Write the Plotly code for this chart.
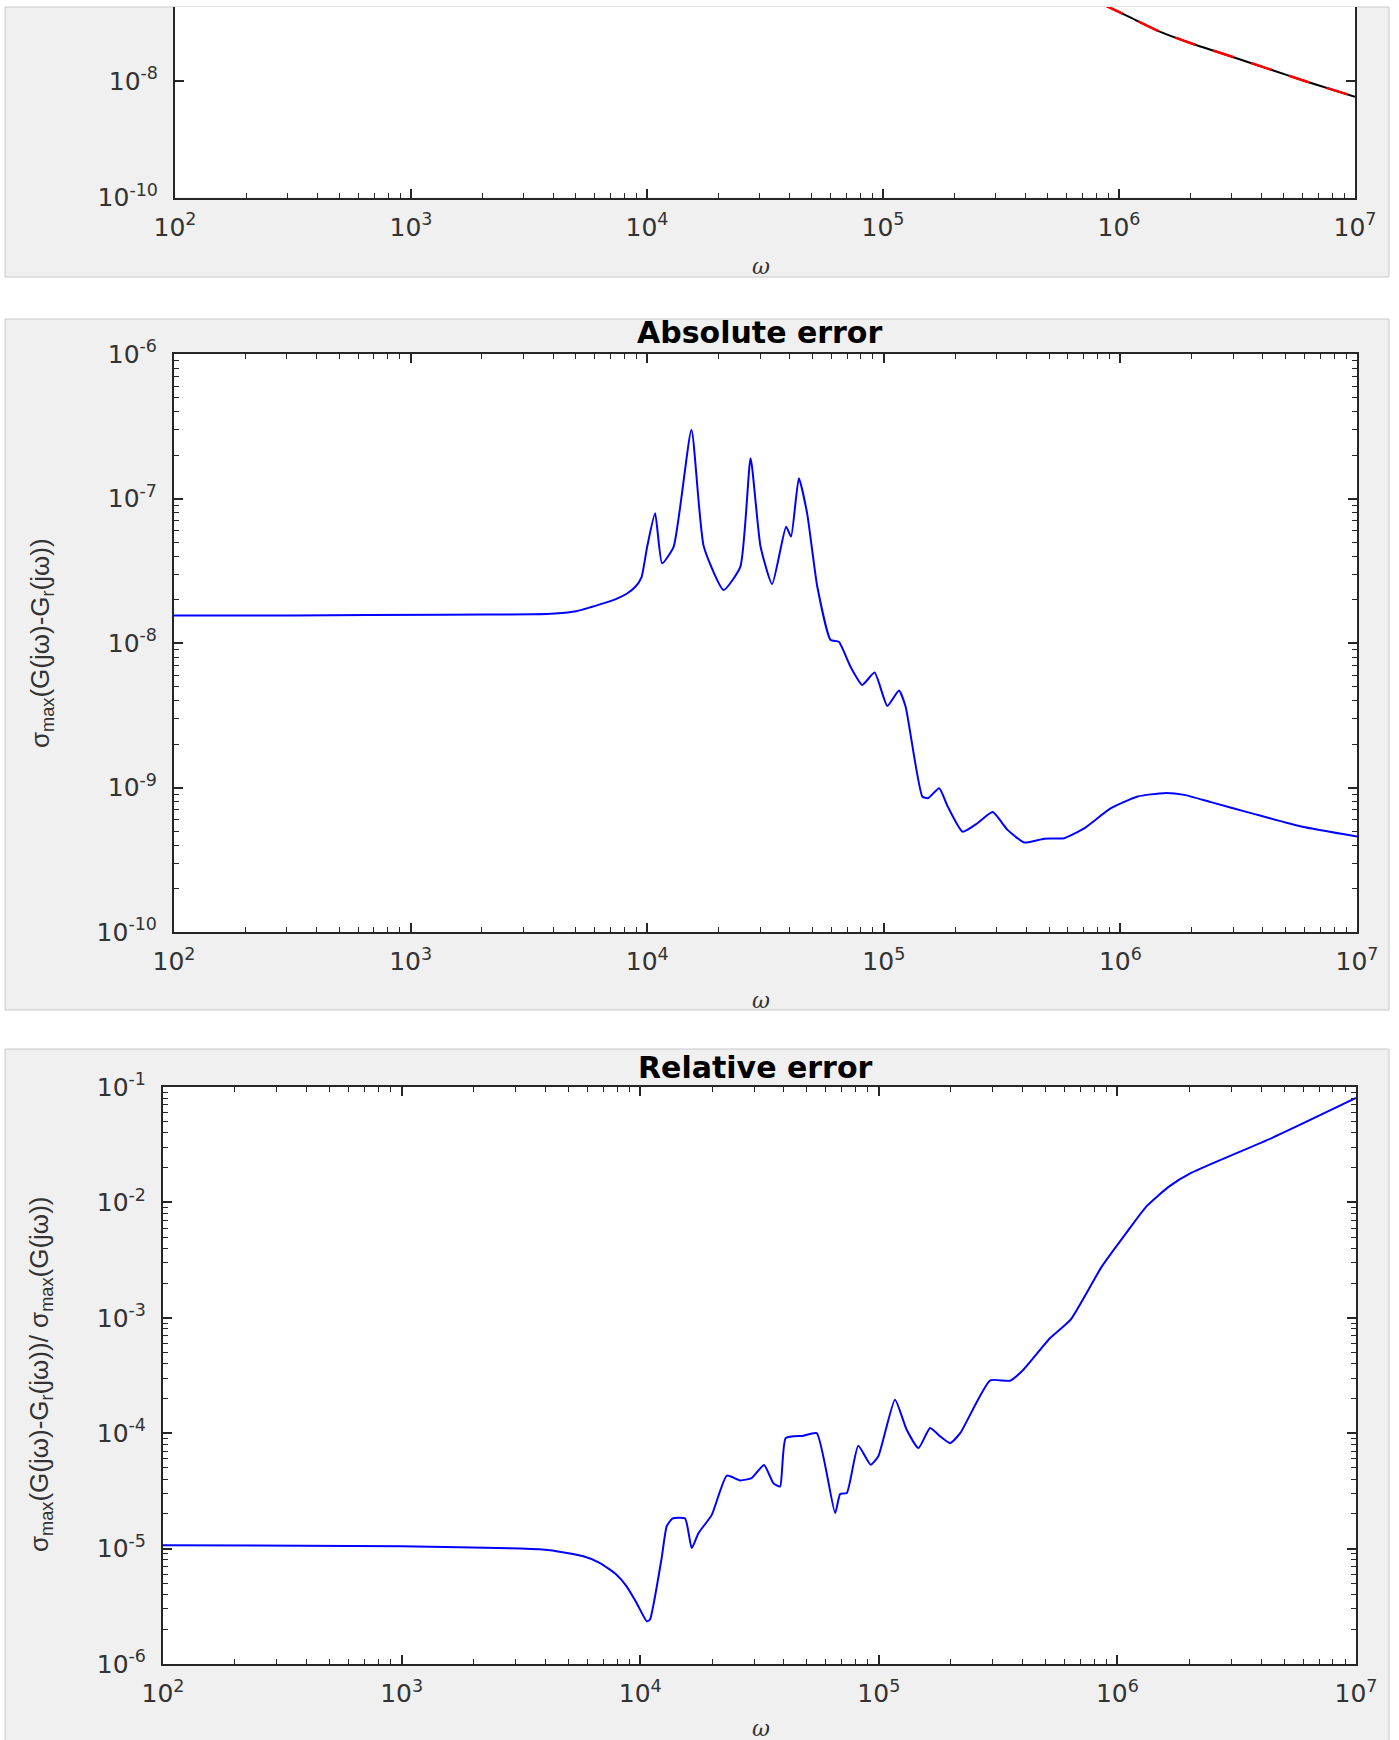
import plotly.graph_objects as go

W, H = 1399, 1740

# ---------------- data ----------------
# Panel 1: sigma_max of full model and reduced model (only the tail is visible)
omega_top = [8.51e5, 1.099e6, 1.489e6, 2.018e6, 2.864e6, 4.236e6, 6.266e6, 1.0e7]
sigma_G = [2.09e-7, 1.27e-7, 7.02e-8, 4.44e-8, 2.79e-8, 1.65e-8, 9.72e-9, 5.37e-9]
sigma_Gr = [2.09e-7, 1.27e-7, 7.02e-8, 4.44e-8, 2.79e-8, 1.65e-8, 9.72e-9, 5.37e-9]

# Panel 2: absolute error
omega_abs = [100, 316, 1380, 3310, 4070, 5010, 6310, 7410, 8220, 8910,
             9460, 10000, 10800, 11560, 12940, 15380, 17340, 21040, 24770, 27350,
             30130, 33730, 38640, 40550, 43750, 47420, 52360, 59570, 64570, 72270,
             81100, 91400, 103500, 115900, 123600, 145500, 153800, 171400, 186200, 215300,
             249500, 288400, 333400, 392600, 476400, 579400, 703100, 912000, 1.183e6, 1.531e6,
             1.862e6, 2.415e6, 3.565e6, 5.808e6, 1.0e7]
abs_err = [1.55e-8, 1.55e-8, 1.57e-8, 1.58e-8, 1.60e-8, 1.66e-8, 1.85e-8, 2.02e-8, 2.20e-8, 2.45e-8,
           2.85e-8, 4.65e-8, 7.89e-8, 3.56e-8, 4.65e-8, 2.98e-7, 4.65e-8, 2.33e-8, 3.38e-8, 1.90e-7,
           4.65e-8, 2.56e-8, 6.38e-8, 5.45e-8, 1.38e-7, 7.89e-8, 2.45e-8, 1.05e-8, 1.02e-8, 6.87e-9,
           5.13e-9, 6.24e-9, 3.67e-9, 4.69e-9, 3.63e-9, 8.67e-10, 8.43e-10, 9.89e-10, 7.40e-10, 4.95e-10,
           5.68e-10, 6.76e-10, 5.09e-10, 4.16e-10, 4.42e-10, 4.46e-10, 5.22e-10, 7.19e-10, 8.67e-10, 9.14e-10,
           8.89e-10, 7.92e-10, 6.65e-10, 5.37e-10, 4.58e-10]

# Panel 3: relative error
omega_rel = [100, 1000, 3162, 4180, 5780, 6790, 7960, 8770, 9660, 10670,
             10990, 12300, 12910, 13650, 15420, 16440, 17540, 19950, 23070, 26240,
             29310, 33040, 36140, 38550, 40740, 48310, 54950, 65610, 68870, 73450,
             82030, 92470, 99540, 116900, 130900, 146600, 164100, 180700, 199100, 219300,
             293100, 354800, 403600, 522400, 636800, 861000, 1.114e6, 1.324e6, 1.644e6, 2.037e6,
             4.436e6, 1.0e7]
rel_err = [1.07e-5, 1.05e-5, 1.0e-5, 9.66e-6, 8.57e-6, 7.50e-6, 5.94e-6, 4.71e-6, 3.38e-6, 2.34e-6,
           2.43e-6, 8.28e-6, 1.56e-5, 1.82e-5, 1.82e-5, 1.01e-5, 1.36e-5, 1.96e-5, 4.29e-5, 3.90e-5,
           4.09e-5, 5.30e-5, 3.69e-5, 3.45e-5, 9.08e-5, 9.51e-5, 1.0e-4, 2.03e-5, 2.97e-5, 3.03e-5,
           7.78e-5, 5.33e-5, 6.30e-5, 1.95e-4, 1.07e-4, 7.43e-5, 1.11e-4, 9.38e-5, 8.20e-5, 1.0e-4,
           2.87e-4, 2.85e-4, 3.55e-4, 6.68e-4, 9.64e-4, 2.79e-3, 5.79e-3, 9.23e-3, 1.37e-2, 1.80e-2,
           3.61e-2, 8.04e-2]

# tick labels
x_exponents = [2, 3, 4, 5, 6, 7]
top_y_exponents = [-10, -8, -6]
abs_y_exponents = [-10, -9, -8, -7, -6]
rel_y_exponents = [-6, -5, -4, -3, -2, -1]
titles = ["Absolute error", "Relative error"]
x_label = "ω"
abs_y_label = "σ<sub>max</sub>(G(jω)-G<sub>r</sub>(jω))"
rel_y_label = "σ<sub>max</sub>(G(jω)-G<sub>r</sub>(jω))/ σ<sub>max</sub>(G(jω))"


def pow_text(e):
    return "10<sup>%d</sup>" % e


def minor_vals(exps):
    return [k * 10.0 ** e for e in range(min(exps), max(exps)) for k in range(2, 10)]


# ---------------- layout geometry (pixels) ----------------
def fx(p):
    return p / W


def fy(p):
    return 1 - p / H


AX = "#262626"
TICKFONT = dict(family="DejaVu Sans", size=25, color="#333333")

fig = go.Figure()

fig.add_trace(go.Scatter(x=omega_top, y=sigma_G, mode="lines",
                         line=dict(color="black", width=2, shape="spline", smoothing=0.6),
                         xaxis="x", yaxis="y", showlegend=False))
fig.add_trace(go.Scatter(x=omega_top, y=sigma_Gr, mode="lines",
                         line=dict(color="red", width=2.5, dash="22px,18px", shape="spline", smoothing=0.6),
                         xaxis="x", yaxis="y", showlegend=False))
fig.add_trace(go.Scatter(x=omega_abs, y=abs_err, mode="lines",
                         line=dict(color="#0000FF", width=2, shape="spline", smoothing=0.5),
                         xaxis="x2", yaxis="y2", showlegend=False))
fig.add_trace(go.Scatter(x=omega_rel, y=rel_err, mode="lines",
                         line=dict(color="#0000FF", width=2, shape="spline", smoothing=0.5),
                         xaxis="x3", yaxis="y3", showlegend=False))


def xaxis(domain, mirror, anchor):
    return dict(type="log", range=[2, 7], domain=domain, anchor=anchor,
                showline=True, linecolor=AX, linewidth=2, mirror=mirror,
                ticks="inside", ticklen=9, tickwidth=1.5, tickcolor=AX,
                tickmode="array", tickvals=[10.0 ** e for e in x_exponents],
                ticktext=[pow_text(e) for e in x_exponents],
                tickfont=TICKFONT, ticklabelstandoff=6,
                minor=dict(ticks="inside", ticklen=5, tickwidth=1.2, tickcolor=AX,
                           tickmode="array", tickvals=minor_vals(x_exponents), showgrid=False),
                showgrid=False, zeroline=False, automargin=False, fixedrange=True)


def yaxis(domain, rng, exps, anchor, minor=True):
    d = dict(type="log", range=rng, domain=domain, anchor=anchor,
             showline=True, linecolor=AX, linewidth=2, mirror="ticks",
             ticks="inside", ticklen=9, tickwidth=1.5, tickcolor=AX,
             tickmode="array", tickvals=[10.0 ** e for e in exps],
             ticktext=[pow_text(e) for e in exps],
             tickfont=TICKFONT, ticklabelstandoff=10,
             showgrid=False, zeroline=False, automargin=False, fixedrange=True)
    if minor:
        d["minor"] = dict(ticks="inside", ticklen=5, tickwidth=1.2, tickcolor=AX,
                          tickmode="array", tickvals=minor_vals(exps), showgrid=False)
    return d


# plot boxes (left, right, top, bottom) in px
box1 = (175, 1355, 7, 197.5)
box2 = (174, 1357, 354, 932)
box3 = (163, 1356, 1087, 1664)

top_span = (box1[3] - box1[2]) / 58.25

fig.update_layout(
    width=W, height=H, margin=dict(l=0, r=0, t=0, b=0),
    paper_bgcolor="white", plot_bgcolor="white", showlegend=False,
    xaxis=xaxis([fx(box1[0]), fx(box1[1])], False, "y"),
    yaxis=yaxis([fy(box1[3]), fy(box1[2])], [-10, -10 + top_span], top_y_exponents, "x", minor=False),
    xaxis2=xaxis([fx(box2[0]), fx(box2[1])], "ticks", "y2"),
    yaxis2=yaxis([fy(box2[3]), fy(box2[2])], [-10, -6], abs_y_exponents, "x2"),
    xaxis3=xaxis([fx(box3[0]), fx(box3[1])], "ticks", "y3"),
    yaxis3=yaxis([fy(box3[3]), fy(box3[2])], [-6, -1], rel_y_exponents, "x3"),
)

# grey figure panels, then white plot areas on top of them
panels = [(5, 1389, 7, 277), (5, 1389, 319, 1010), (5, 1389, 1049, 1745)]
shapes = []
for (x0, x1, y0, y1) in panels:
    shapes.append(dict(type="rect", xref="paper", yref="paper", layer="below",
                       x0=fx(x0), x1=fx(x1), y0=fy(y1), y1=fy(y0),
                       fillcolor="#F0F0F0", line=dict(color="#C8C8C8", width=1)))
for (l, r, t, b) in (box1, box2, box3):
    shapes.append(dict(type="rect", xref="paper", yref="paper", layer="below",
                       x0=fx(l), x1=fx(r), y0=fy(b), y1=fy(t),
                       fillcolor="white", line=dict(width=0)))
fig.update_layout(shapes=shapes)

ann = []
# titles
ann.append(dict(text="<b>%s</b>" % titles[0], x=fx(759), y=fy(332), xref="paper", yref="paper",
                showarrow=False, xanchor="center", yanchor="middle",
                font=dict(family="DejaVu Sans", size=30, color="black")))
ann.append(dict(text="<b>%s</b>" % titles[1], x=fx(755), y=fy(1067), xref="paper", yref="paper",
                showarrow=False, xanchor="center", yanchor="middle",
                font=dict(family="DejaVu Sans", size=30, color="black")))
# omega x labels
for yy in (266, 1001, 1728):
    ann.append(dict(text="<i>%s</i>" % x_label, x=fx(761), y=fy(yy), xref="paper", yref="paper",
                    showarrow=False, xanchor="center", yanchor="middle",
                    font=dict(family="DejaVu Serif", size=22, color="#333333")))
# y labels
ann.append(dict(text=abs_y_label, x=fx(42), y=fy(643), xref="paper", yref="paper",
                showarrow=False, xanchor="center", yanchor="middle", textangle=-90,
                font=dict(family="Liberation Sans", size=26, color="#333333")))
ann.append(dict(text=rel_y_label, x=fx(40), y=fy(1375), xref="paper", yref="paper",
                showarrow=False, xanchor="center", yanchor="middle", textangle=-90,
                font=dict(family="Liberation Sans", size=26, color="#333333")))
fig.update_layout(annotations=ann)

fig.write_html("out.html")
